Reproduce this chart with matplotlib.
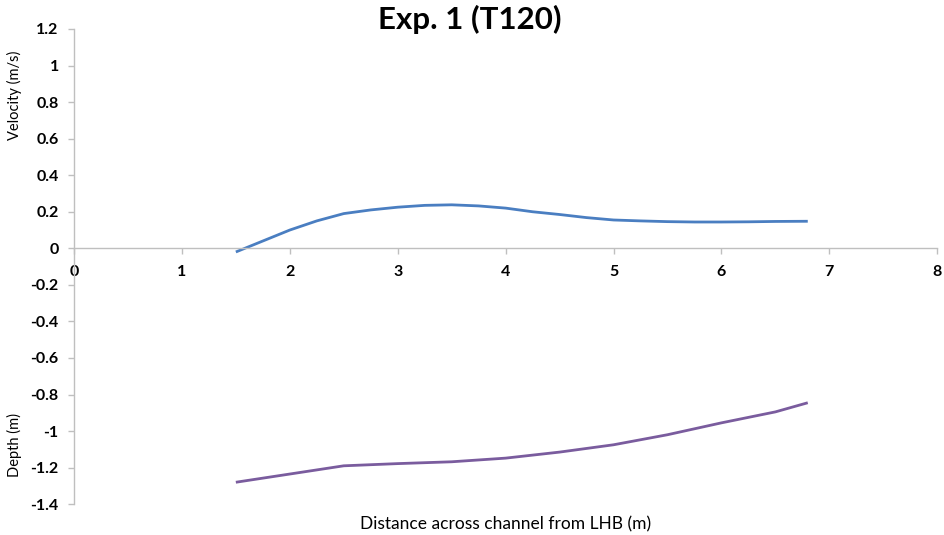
import matplotlib.pyplot as plt

# distance across channel (m)
vel_x = [1.5, 1.75, 2, 2.25, 2.5, 2.75, 3, 3.25, 3.5, 3.75, 4, 4.25, 4.5,
         4.75, 5, 5.25, 5.5, 5.75, 6, 6.25, 6.5, 6.8]
vel_y = [-0.02, 0.04, 0.10, 0.15, 0.19, 0.21, 0.225, 0.235, 0.238, 0.232,
         0.22, 0.20, 0.185, 0.168, 0.155, 0.15, 0.146, 0.144, 0.144, 0.145,
         0.147, 0.148]

depth_x = [1.5, 2, 2.5, 3, 3.5, 4, 4.5, 5, 5.5, 6, 6.5, 6.8]
depth_y = [-1.28, -1.235, -1.19, -1.178, -1.168, -1.148, -1.115, -1.075,
           -1.02, -0.955, -0.895, -0.845]

x_ticks = [0, 1, 2, 3, 4, 5, 6, 7, 8]
y_ticks = [1.2, 1, 0.8, 0.6, 0.4, 0.2, 0, -0.2, -0.4, -0.6, -0.8, -1, -1.2, -1.4]

plt.rcParams['font.family'] = ['Lato', 'DejaVu Sans']

fig = plt.figure(figsize=(9.45, 5.35), dpi=100)
ax = fig.add_axes([0.0783, 0.0576, 0.9135, 0.8882])

ax.plot(vel_x, vel_y, color='#4A7EC1', lw=2.0, solid_capstyle='butt')
ax.plot(depth_x, depth_y, color='#7A5C9E', lw=2.0, solid_capstyle='butt')

ax.set_xlim(0, 8)
ax.set_ylim(-1.4, 1.2)
ax.set_xticks(x_ticks)
ax.set_yticks(y_ticks)
ax.set_xticklabels([str(t) for t in x_ticks])
ax.set_yticklabels(['%g' % t for t in y_ticks])

for s in ['top', 'right']:
    ax.spines[s].set_visible(False)
ax.spines['bottom'].set_position(('data', 0))
for s in ['left', 'bottom']:
    ax.spines[s].set_color('#BFBFBF')
    ax.spines[s].set_linewidth(1.0)

ax.tick_params(axis='both', colors='#BFBFBF', length=4, width=1)
for lbl in ax.get_xticklabels() + ax.get_yticklabels():
    lbl.set_color('black')
    lbl.set_fontsize(11.5)
    lbl.set_fontweight('bold')
ax.tick_params(axis='y', pad=7)
ax.tick_params(axis='x', pad=8)

fig.text(0.497, 0.963, 'Exp. 1 (T120)', ha='center', va='center',
         fontsize=22.5, fontweight='bold')
fig.text(0.015, 0.822, 'Velocity (m/s)', rotation=90, ha='center',
         va='center', fontsize=10.5)
fig.text(0.015, 0.168, 'Depth (m)', rotation=90, ha='center',
         va='center', fontsize=10.5)
fig.text(0.535, 0.019, 'Distance across channel from LHB (m)', ha='center',
         va='center', fontsize=12.5)

fig.savefig('out.png', dpi=100)
